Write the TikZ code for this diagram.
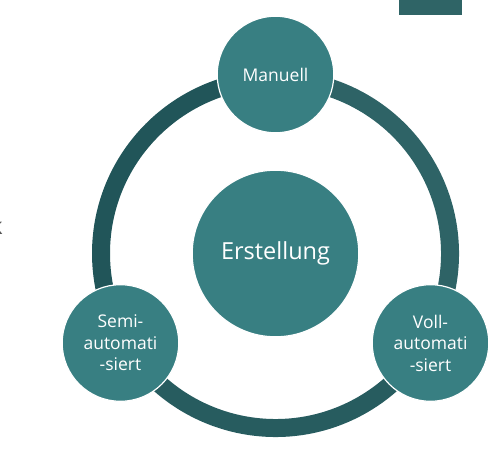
\documentclass[tikz,border=0pt]{standalone}
\usepackage{fontspec}
\setmainfont{Open Sans}
\usetikzlibrary{calc}
\definecolor{fillc}{HTML}{387F82}
\definecolor{ringL}{HTML}{215559}
\definecolor{ringR}{HTML}{2E6366}
\definecolor{ringB}{HTML}{275C5F}
\definecolor{barc}{HTML}{2F6466}
\definecolor{fragc}{HTML}{555555}
\tikzset{
  ringarc/.style={line width=18pt},
  smallcirc/.style={circle, fill=fillc, draw=white, line width=1.2pt, minimum size=116.6pt, inner sep=0pt, text=white, align=center, font=\fontsize{17.5}{21.5}\selectfont},
  bigcirc/.style={circle, fill=fillc, draw=white, line width=1.2pt, minimum size=166.6pt, inner sep=0pt, text=white, font=\fontsize{23.5}{28}\selectfont}
}
\begin{document}
\begin{tikzpicture}[x=1pt,y=1pt]
\useasboundingbox (0,0) rectangle (492,450);
\fill[barc] (399,435) rectangle (462,450);
\node[anchor=base east, text=fragc, font=\fontsize{23}{28}\selectfont, inner sep=0pt] (frag) at (3,215) {k};
\coordinate (c) at (275.5,196.5);
\draw[ringarc, ringL] (c) ++(90:174.5) arc[start angle=90, end angle=210, radius=174.5];
\draw[ringarc, ringB] (c) ++(210:174.5) arc[start angle=210, end angle=330, radius=174.5];
\draw[ringarc, ringR] (c) ++(-30:174.5) arc[start angle=-30, end angle=90, radius=174.5];
\node[bigcirc] (center) at (c) {Erstellung};
\node[smallcirc] (man) at ($(c)+(90:179)$) {Manuell};
\node[smallcirc] (semi) at ($(c)+(210:179)$) {Semi-\\automati\\-siert};
\node[smallcirc] (voll) at ($(c)+(330:179)$) {Voll-\\automati\\-siert};
\end{tikzpicture}
\end{document}
